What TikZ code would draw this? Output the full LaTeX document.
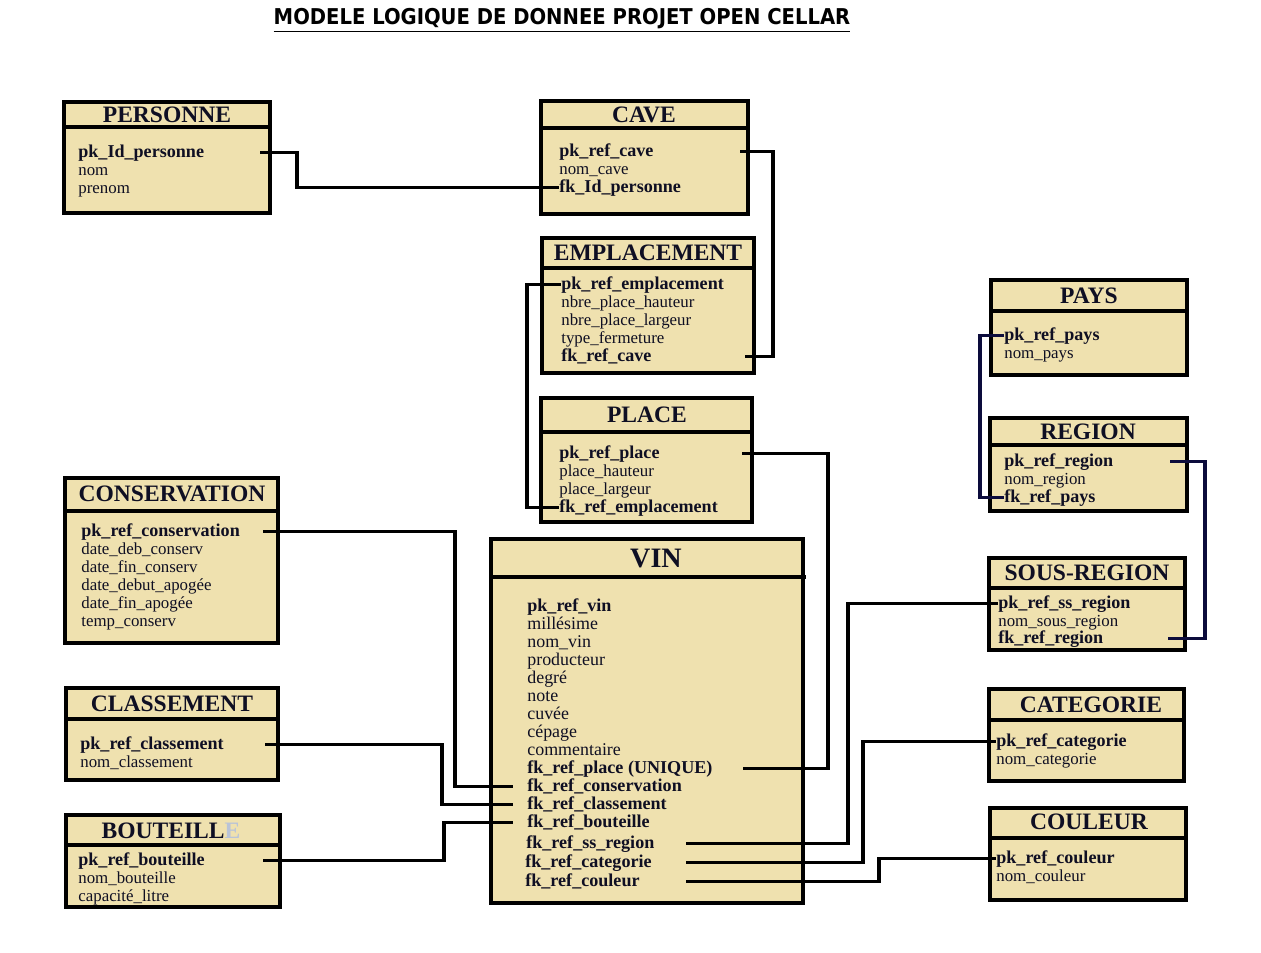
\documentclass[tikz,border=0pt]{standalone}
\usepackage{fontspec}
\setmainfont{Liberation Serif}
\newfontfamily\titlefont{DejaVu Sans Condensed}
\usetikzlibrary{fit}
\definecolor{cellar}{RGB}{239,225,175}
\definecolor{ink}{RGB}{15,15,35}
\definecolor{navy}{RGB}{12,12,60}
\definecolor{fadeE}{RGB}{185,195,215}
\begin{document}
\begin{tikzpicture}[x=0.02cm, y=-0.02cm,
    tbl/.style={draw, line width=2.1pt, fill=cellar, inner sep=0pt},
    sep/.style={line width=2.1pt},
    head/.style={font=\fontsize{13.4}{15}\selectfont\bfseries, text=ink, inner sep=0pt},
    att/.style={anchor=west, inner sep=0pt, text=ink, text height=1.5ex, text depth=.3ex,
      yshift=-1pt, font=\fontsize{9.6}{11}\selectfont},
    key/.style={att, font=\fontsize{10.3}{12}\selectfont\bfseries},
    vatt/.style={att, font=\fontsize{10.2}{12}\selectfont},
    link/.style={line width=1.9pt},
    blue link/.style={link, draw=navy}]
  \fill[white] (0,0) rectangle (1261,953);
  \useasboundingbox (0,0) rectangle (1261,953);

  \node[font=\titlefont\bfseries\fontsize{12.4}{14}\selectfont] (title) at (562,20)
    {\underline{MODELE LOGIQUE DE DONNEE PROJET OPEN CELLAR}};

  % PERSONNE
  \node[tbl, fit={(64,102) (270,213)}] (pers) {};
  \draw[sep] (pers.west |- 0,127) -- (pers.east |- 0,127);
  \node[head] (pers-t) at (167,115) {PERSONNE};
  \node[key] (pers-1) at (78,151) {pk\_Id\_personne};
  \node[att] (pers-2) at (78,169) {nom};
  \node[att] (pers-3) at (78,187) {prenom};

  % CAVE
  \node[tbl, fit={(541,101) (748,214)}] (cave) {};
  \draw[sep] (cave.west |- 0,128) -- (cave.east |- 0,128);
  \node[head] (cave-t) at (644,115) {CAVE};
  \node[key] (cave-1) at (559,150) {pk\_ref\_cave};
  \node[att] (cave-2) at (559,168) {nom\_cave};
  \node[key] (cave-3) at (559,186) {fk\_Id\_personne};

  % EMPLACEMENT
  \node[tbl, fit={(542,238) (754,373)}] (empl) {};
  \draw[sep] (empl.west |- 0,268) -- (empl.east |- 0,268);
  \node[head] (empl-t) at (648,253) {EMPLACEMENT};
  \node[key] (empl-1) at (561,283) {pk\_ref\_emplacement};
  \node[att] (empl-2) at (561,301) {nbre\_place\_hauteur};
  \node[att] (empl-3) at (561,319) {nbre\_place\_largeur};
  \node[att] (empl-4) at (561,337) {type\_fermeture};
  \node[key] (empl-5) at (561,355) {fk\_ref\_cave};

  % PLACE
  \node[tbl, fit={(541,398) (752,522)}] (place) {};
  \draw[sep] (place.west |- 0,432) -- (place.east |- 0,432);
  \node[head] (place-t) at (647,415) {PLACE};
  \node[key] (place-1) at (559,452) {pk\_ref\_place};
  \node[att] (place-2) at (559,470) {place\_hauteur};
  \node[att] (place-3) at (559,488) {place\_largeur};
  \node[key] (place-4) at (559,506) {fk\_ref\_emplacement};

  % CONSERVATION
  \node[tbl, fit={(65,478) (278,643)}] (cons) {};
  \draw[sep] (cons.west |- 0,511) -- (cons.east |- 0,511);
  \node[head] (cons-t) at (172,494) {CONSERVATION};
  \node[key] (cons-1) at (81,530) {pk\_ref\_conservation};
  \node[att] (cons-2) at (81,548) {date\_deb\_conserv};
  \node[att] (cons-3) at (81,566) {date\_fin\_conserv};
  \node[att] (cons-4) at (81,584) {date\_debut\_apogée};
  \node[att] (cons-5) at (81,602) {date\_fin\_apogée};
  \node[att] (cons-6) at (81,620) {temp\_conserv};

  % CLASSEMENT
  \node[tbl, fit={(66,688) (278,780)}] (class) {};
  \draw[sep] (class.west |- 0,719) -- (class.east |- 0,719);
  \node[head] (class-t) at (172,704) {CLASSEMENT};
  \node[key] (class-1) at (80,743) {pk\_ref\_classement};
  \node[att] (class-2) at (80,761) {nom\_classement};

  % BOUTEILLE
  \node[tbl, fit={(66,815) (280,907)}] (bout) {};
  \draw[sep] (bout.west |- 0,845) -- (bout.east |- 0,845);
  \node[head] (bout-t) at (171,831) {BOUTEILL\textcolor{fadeE}{E}};
  \node[key] (bout-1) at (78,859) {pk\_ref\_bouteille};
  \node[att] (bout-2) at (78,877) {nom\_bouteille};
  \node[att] (bout-3) at (78,895) {capacité\_litre};

  % VIN
  \node[tbl, fit={(491,539) (803,903)}] (vin) {};
  \draw[sep] (vin.west |- 0,577) -- (806,577);
  \node[head, font=\fontsize{16}{18}\selectfont\bfseries] (vin-t) at (656,559) {VIN};
  \node[key] (vin-1) at (527,605) {pk\_ref\_vin};
  \node[vatt] (vin-2) at (527,623) {millésime};
  \node[vatt] (vin-3) at (527,641) {nom\_vin};
  \node[vatt] (vin-4) at (527,659) {producteur};
  \node[vatt] (vin-5) at (527,677) {degré};
  \node[vatt] (vin-6) at (527,695) {note};
  \node[vatt] (vin-7) at (527,713) {cuvée};
  \node[vatt] (vin-8) at (527,731) {cépage};
  \node[vatt] (vin-9) at (527,749) {commentaire};
  \node[key] (vin-10) at (527,767) {fk\_ref\_place (UNIQUE)};
  \node[key] (vin-11) at (527,785) {fk\_ref\_conservation};
  \node[key] (vin-12) at (527,803) {fk\_ref\_classement};
  \node[key] (vin-13) at (527,821) {fk\_ref\_bouteille};
  \node[key] (vin-14) at (526,842) {fk\_ref\_ss\_region};
  \node[key] (vin-15) at (525,861) {fk\_ref\_categorie};
  \node[key] (vin-16) at (525,880) {fk\_ref\_couleur};

  % PAYS
  \node[tbl, fit={(991,280) (1187,375)}] (pays) {};
  \draw[sep] (pays.west |- 0,311) -- (pays.east |- 0,311);
  \node[head] (pays-t) at (1089,296) {PAYS};
  \node[key] (pays-1) at (1004,334) {pk\_ref\_pays};
  \node[att] (pays-2) at (1004,352) {nom\_pays};

  % REGION
  \node[tbl, fit={(990,418) (1187,511)}] (reg) {};
  \draw[sep] (reg.west |- 0,445) -- (reg.east |- 0,445);
  \node[head] (reg-t) at (1088,432) {REGION};
  \node[key] (reg-1) at (1004,460) {pk\_ref\_region};
  \node[att] (reg-2) at (1004,478) {nom\_region};
  \node[key] (reg-3) at (1004,496) {fk\_ref\_pays};

  % SOUS-REGION
  \node[tbl, fit={(989,558) (1185,650)}] (sreg) {};
  \draw[sep] (sreg.west |- 0,588) -- (sreg.east |- 0,588);
  \node[head] (sreg-t) at (1087,573) {SOUS-REGION};
  \node[key] (sreg-1) at (998,602) {pk\_ref\_ss\_region};
  \node[att] (sreg-2) at (998,620) {nom\_sous\_region};
  \node[key] (sreg-3) at (998,637) {fk\_ref\_region};

  % CATEGORIE
  \node[tbl, fit={(989,689) (1184,781)}] (cat) {};
  \draw[sep] (cat.west |- 0,720) -- (cat.east |- 0,720);
  \node[head] (cat-t) at (1091,705) {CATEGORIE};
  \node[key] (cat-1) at (996,740) {pk\_ref\_categorie};
  \node[att] (cat-2) at (996,758) {nom\_categorie};

  % COULEUR
  \node[tbl, fit={(990,808) (1186,900)}] (coul) {};
  \draw[sep] (coul.west |- 0,838) -- (coul.east |- 0,838);
  \node[head] (coul-t) at (1089,822) {COULEUR};
  \node[key] (coul-1) at (996,857) {pk\_ref\_couleur};
  \node[att] (coul-2) at (996,875) {nom\_couleur};

  % liens
  \draw[link] (260,0 |- pers-1) -| (297,0 |- cave-3) -- (cave-3.west);
  \draw[link] (740,0 |- cave-1) -| (773,0 |- empl-5) -- (745,0 |- empl-5);
  \draw[link] (empl-1.west) -| (527,0 |- place-4) -- (place-4.west);
  \draw[link] (742,0 |- place-1) -| (828,0 |- vin-10) -- (743,0 |- vin-10);
  \draw[link] (263,0 |- cons-1) -| (455,0 |- vin-11) -- ([xshift=-.28cm]vin-11.west);
  \draw[link] (265,0 |- class-1) -| (442,0 |- vin-12) -- ([xshift=-.28cm]vin-12.west);
  \draw[link] (263,0 |- bout-1) -| (444,0 |- vin-13) -- ([xshift=-.28cm]vin-13.west);
  \draw[link] (686,0 |- vin-14) -| (848,0 |- sreg-1) -- (sreg-1.west);
  \draw[link] (686,0 |- vin-15) -| (863,0 |- cat-1) -- (cat-1.west);
  \draw[link] (686,0 |- vin-16) -| (879,0 |- coul-1) -- (coul-1.west);
  \draw[blue link] (pays-1.west) -| (980,0 |- reg-3) -- (reg-3.west);
  \draw[blue link] (1170,0 |- reg-1) -| (1205,0 |- sreg-3) -- (1168,0 |- sreg-3);
\end{tikzpicture}
\end{document}
